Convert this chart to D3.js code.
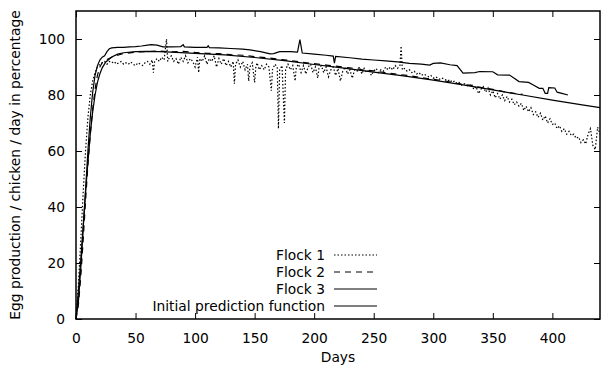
<!DOCTYPE html>
<html>
<head>
<meta charset="utf-8">
<script src="https://cdn.jsdelivr.net/npm/d3@7"></script>
<style>
  body { margin: 0; background: #fff; }
  text { font-family: 'DejaVu Sans', sans-serif; fill: #000; }
</style>
</head>
<body>
<div id="chart"></div>
<script>
// egg production curves as [day, percentage]
const xTicks = [0, 50, 100, 150, 200, 250, 300, 350, 400]
const yTicks = [0, 20, 40, 60, 80, 100]
const seriesNames = ['Flock 1', 'Flock 2', 'Flock 3', 'Initial prediction function']

const flock1 = [
  [0, 0], [2, 12], [4, 28], [6, 45], [8, 60], [10, 72], [12, 80], [14, 85], [16, 88], [18, 90],
  [20, 91], [22, 91.5], [24, 92], [26, 91], [28, 92], [30, 91.5], [32, 92], [34, 91], [36, 91.5], [38, 92],
  [40, 91], [42, 91.5], [44, 91], [46, 91.8], [48, 91], [50, 90.5], [52, 91.5], [54, 91], [56, 90.5], [58, 91.5],
  [60, 92], [62, 91], [64, 92.5], [65, 88], [66, 92], [68, 93], [70, 92], [72, 93.5], [74, 92.5], [76, 100],
  [77, 92], [78, 93], [80, 94], [82, 92], [84, 93], [86, 91], [88, 93.5], [90, 92], [92, 94], [94, 91.5],
  [96, 93], [98, 92], [100, 90], [102, 93.5], [103, 88], [104, 93], [106, 92], [108, 94], [110, 91], [112, 93],
  [114, 92], [116, 94], [118, 90], [120, 93], [122, 91], [124, 93], [126, 90.5], [128, 92], [130, 90], [132, 92],
  [133, 84], [134, 91], [136, 92.5], [138, 90], [140, 92], [142, 89], [144, 91], [145, 85], [146, 90], [148, 91.5],
  [150, 84.5], [151, 90], [152, 91.5], [154, 89], [156, 90.5], [158, 89], [160, 91], [162, 90], [164, 81.5], [165, 89],
  [167, 91], [169, 90], [170, 68], [171, 89], [173, 90.5], [175, 70], [176, 89], [178, 91], [180, 89], [182, 90.5],
  [184, 85], [185, 90], [187, 91], [189, 88], [191, 90.5], [193, 87.5], [195, 90], [197, 91], [199, 88], [201, 90],
  [203, 86], [204, 89.5], [206, 90.5], [208, 88], [210, 90], [212, 86.5], [214, 89], [216, 90], [218, 87], [220, 89.5],
  [222, 85], [224, 88.5], [226, 90], [228, 87.5], [230, 89], [232, 86], [234, 89], [236, 88.5], [238, 90], [240, 87.5],
  [242, 89.5], [244, 88], [246, 89], [248, 87], [250, 88.5], [252, 89.5], [254, 88], [256, 89], [258, 88.5], [260, 90],
  [262, 89], [264, 90], [266, 89], [268, 90.5], [270, 89.5], [272, 90.5], [273, 97.5], [274, 89], [276, 89.5], [278, 88.5],
  [280, 89], [282, 88], [284, 88.5], [286, 87.5], [288, 88], [290, 87], [292, 87.5], [294, 87], [296, 86.5], [298, 87],
  [300, 86], [302, 86.5], [304, 86], [306, 85.5], [308, 86], [310, 85.5], [312, 85], [314, 85.5], [316, 84.5], [318, 85],
  [320, 84], [322, 84.5], [324, 83.5], [326, 84], [328, 83.5], [330, 83], [332, 84], [334, 82], [336, 83], [338, 80.5],
  [340, 82], [342, 83], [344, 81], [346, 82.5], [348, 80], [350, 81.5], [352, 79], [354, 80.5], [356, 78.5], [358, 80],
  [360, 78], [362, 79.5], [364, 77.5], [366, 78.5], [368, 76.5], [370, 77.5], [372, 76], [374, 77], [376, 74.5], [378, 76],
  [380, 74], [382, 75.5], [384, 73], [386, 74], [388, 72], [390, 73.5], [392, 71], [394, 72.5], [396, 70], [398, 71.5],
  [400, 69.5], [402, 70], [404, 68], [406, 69], [408, 67], [410, 68], [412, 66], [414, 67], [416, 65.5], [418, 66],
  [420, 64.5], [422, 65], [424, 63], [426, 64], [428, 62.5], [430, 66], [432, 68], [434, 62], [436, 60.5], [438, 68.5],
  [440, 66]
]

const flock2 = [
  [0, 0], [2, 5], [4, 15], [6, 28], [8, 42], [10, 55], [12, 66], [14, 75], [16, 82], [18, 87],
  [20, 90], [22, 91.5], [25, 92.5], [30, 93.5], [35, 94.2], [40, 94.8], [50, 95.3], [60, 95.5], [70, 95.7], [80, 95.4],
  [90, 95.6], [100, 95.2], [110, 94.9], [120, 94.8], [130, 94.4], [140, 94.2], [150, 93.7], [160, 93.3], [170, 92.8], [180, 92.3],
  [190, 91.7], [200, 91.2], [210, 90.7], [220, 90.2], [230, 89.7], [240, 89.1], [250, 88.6], [260, 88], [270, 87.4], [280, 86.9],
  [290, 86.2], [300, 85.6], [310, 85], [320, 84.2], [330, 83.5], [340, 82.7], [350, 82], [360, 81.1], [370, 80.5], [375, 80.2]
]

const flock3 = [
  [0, 0], [2, 6], [4, 18], [6, 32], [8, 46], [10, 60], [12, 72], [14, 81], [16, 87], [18, 90.5],
  [20, 92.5], [22, 93.5], [24, 94], [26, 95.5], [28, 96.5], [30, 96.8], [35, 97], [40, 97], [45, 97.2], [50, 97.3],
  [55, 97.5], [60, 97.8], [63, 98], [68, 97.8], [73, 97.2], [80, 97.2], [88, 97.3], [90, 98], [91, 97.2], [100, 97],
  [110, 97], [111, 97.6], [112, 96.9], [120, 96.8], [130, 96.6], [140, 96.4], [146, 96.1], [155, 95.5], [163, 94.7], [166, 94.8],
  [171, 95.5], [180, 95.5], [186, 95.3], [188, 99.8], [190, 95], [200, 94.6], [210, 94.2], [216, 93.9], [217, 91.4], [218, 93.8],
  [230, 93.3], [240, 92.8], [250, 92.5], [260, 92.2], [270, 91.8], [280, 91.3], [290, 91], [297, 90.7], [300, 91.3], [306, 91.5],
  [314, 90.8], [320, 90.5], [325, 87.8], [335, 88], [339, 88.4], [350, 88.3], [354, 87.2], [364, 87.1], [368, 86], [372, 84.8],
  [380, 84.5], [384, 83.6], [389, 82.4], [392, 82.4], [394, 80.6], [396, 80.6], [397, 82.6], [402, 82.5], [404, 81], [408, 80.6],
  [413, 80]
]

const prediction = [
  [0, 0], [2, 10], [4, 21], [6, 33], [8, 45], [10, 56], [12, 66], [14, 74], [16, 80], [18, 84.5],
  [20, 87.5], [22, 89.7], [25, 91.8], [30, 93.6], [35, 94.6], [40, 95.1], [50, 95.5], [60, 95.6], [70, 95.5], [80, 95.3],
  [100, 94.9], [125, 94.3], [150, 93.4], [175, 92.3], [200, 90.9], [225, 89.6], [250, 88.2], [275, 86.8], [300, 85.3], [325, 83.6],
  [350, 81.8], [375, 80], [400, 78.2], [425, 76.5], [440, 75.5]
]

const width = 601
const height = 368
const margin = {top: 11, right: 1, bottom: 49, left: 76}
const fontSize = '13.8px'

const svg = d3.select('#chart')
  .append('svg')
  .attr('width', width)
  .attr('height', height)

const x = d3.scaleLinear()
  .domain([0, 440])
  .range([margin.left, width - margin.right])
const y = d3.scaleLinear()
  .domain([0, 110])
  .range([height - margin.bottom, margin.top])

const line = d3.line()
  .x(d => x(d[0]))
  .y(d => y(d[1]))

const styles = [
  {data: flock1, dash: '1.5,2', w: 1.2},
  {data: flock2, dash: '6,5', w: 1.2},
  {data: flock3, dash: null, w: 1.2},
  {data: prediction, dash: null, w: 1.2}
]

// curves
svg.append('g')
  .selectAll('path')
  .data(styles)
  .enter()
  .append('path')
  .attr('d', d => line(d.data))
  .attr('fill', 'none')
  .attr('stroke', '#000')
  .attr('stroke-width', d => d.w)
  .attr('stroke-dasharray', d => d.dash)

// axes, ticks pointing inward, mirrored on top/right
const plotH = y(0) - y(110)
const plotW = x(440) - x(0)
svg.append('g')
  .attr('transform', `translate(0,${y(0)})`)
  .call(d3.axisBottom(x).tickValues(xTicks).tickSizeInner(-6).tickSizeOuter(0).tickPadding(14))
svg.append('g')
  .attr('transform', `translate(0,${y(110)})`)
  .call(d3.axisTop(x).tickValues(xTicks).tickSizeInner(-6).tickSizeOuter(0).tickFormat(''))
svg.append('g')
  .attr('transform', `translate(${x(0)},0)`)
  .call(d3.axisLeft(y).tickValues(yTicks).tickSizeInner(-6).tickSizeOuter(0).tickPadding(11))
svg.append('g')
  .attr('transform', `translate(${x(440)},0)`)
  .call(d3.axisRight(y).tickValues(yTicks).tickSizeInner(-6).tickSizeOuter(0).tickFormat(''))

svg.selectAll('.domain').remove()
svg.selectAll('.tick line').attr('stroke', '#000').attr('stroke-width', 1)
svg.selectAll('.tick text')
  .style('font-family', "'DejaVu Sans', sans-serif")
  .style('font-size', fontSize)

svg.append('rect')
  .attr('x', x(0))
  .attr('y', y(110))
  .attr('width', plotW)
  .attr('height', plotH)
  .attr('fill', 'none')
  .attr('stroke', '#000')
  .attr('stroke-width', 1.5)

// axis titles
svg.append('text')
  .attr('x', (x(0) + x(440)) / 2)
  .attr('y', 362)
  .attr('text-anchor', 'middle')
  .style('font-size', fontSize)
  .text('Days')
svg.append('text')
  .attr('transform', `translate(20,${(y(0) + y(110)) / 2})rotate(-90)`)
  .attr('text-anchor', 'middle')
  .style('font-size', fontSize)
  .text('Egg production / chicken / day in percentage')

// legend
const legend = svg.append('g')
  .selectAll('g')
  .data(styles)
  .enter()
  .append('g')
  .attr('transform', (d, i) => `translate(0,${255 + i * 17})`)
legend.append('text')
  .attr('x', 325)
  .attr('y', 5)
  .attr('text-anchor', 'end')
  .style('font-size', fontSize)
  .text((d, i) => seriesNames[i])
legend.append('line')
  .attr('x1', 334)
  .attr('x2', 377)
  .attr('stroke', '#000')
  .attr('stroke-width', d => d.w)
  .attr('stroke-dasharray', d => d.dash)
</script>
</body>
</html>
